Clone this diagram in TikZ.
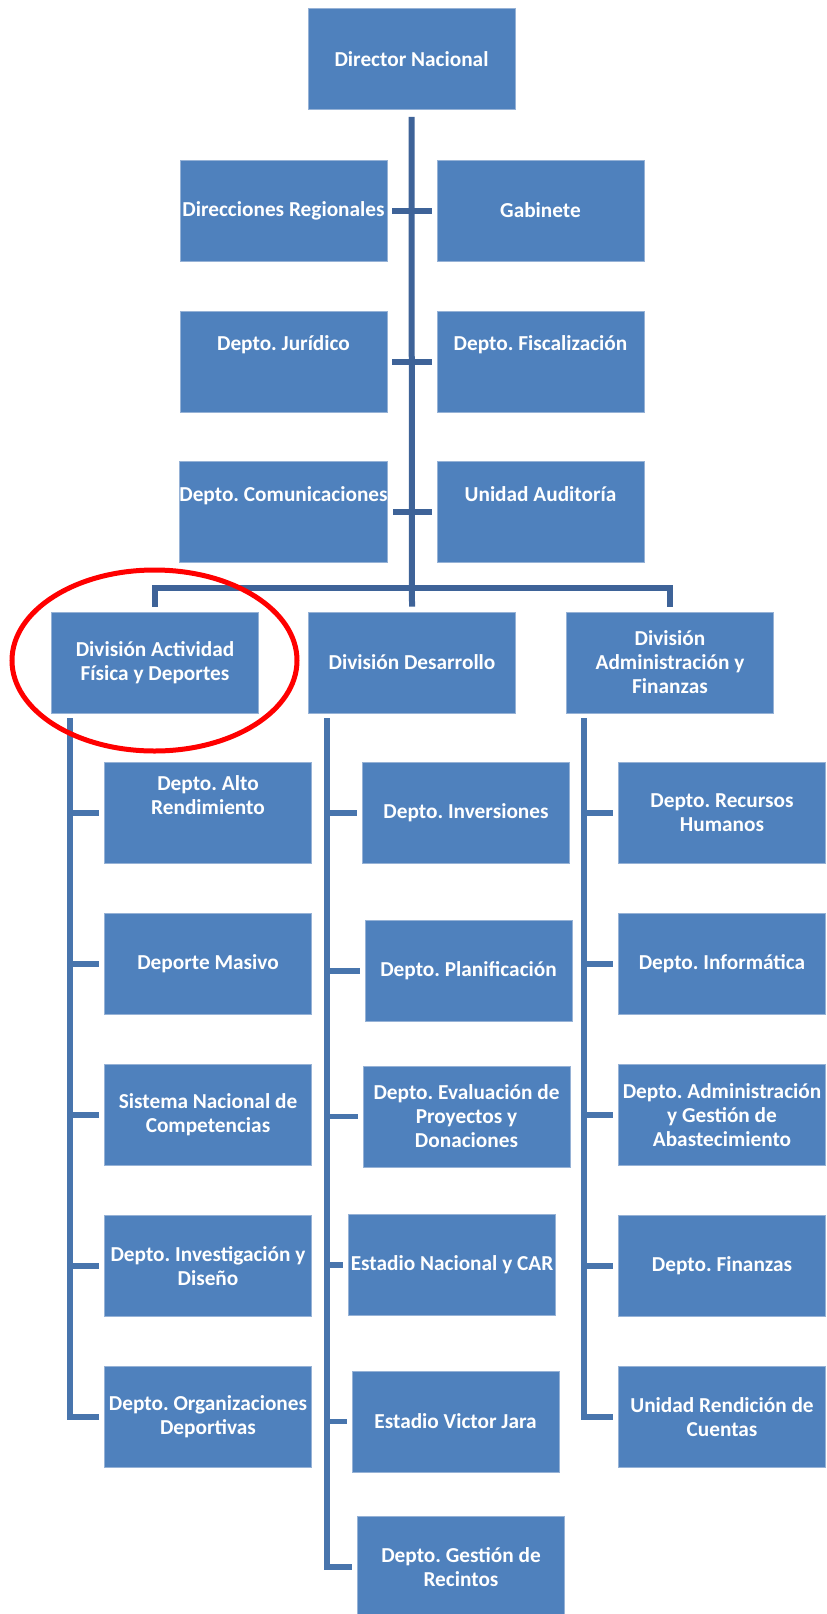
\documentclass[tikz,border=0pt]{standalone}
\usepackage{fontspec}
\setmainfont{Carlito}
\frenchspacing
\definecolor{boxblue}{RGB}{79,129,189}
\definecolor{boxedge}{RGB}{150,178,214}
\definecolor{trunk}{RGB}{62,99,152}
\definecolor{branch}{RGB}{72,117,173}

\begin{document}
\begin{tikzpicture}[x=1pt,y=-1pt,
  unit/.style={draw=boxedge,line width=0.8pt,fill=boxblue,text=white,minimum width=207pt,minimum height=101pt,
    inner sep=0pt,align=center,font=\bfseries\fontsize{21.3pt}{24pt}\selectfont},
  raised/.style={text depth=36pt},
  main/.style={trunk,line width=6pt},
  sub/.style={branch,line width=5.5pt}]
\useasboundingbox (0,0) rectangle (827,1614);
% top of the chart
\node[unit] (dir) at (411.5,59) {Director Nacional};
\node[unit] (reg) at (283.5,210.5) {Direcciones Regionales};
\node[unit] (gab) at (540.5,210.5) {Gabinete};
\node[unit,raised] (jur) at (283.5,361.5) {Depto. Jurídico};
\node[unit,raised] (fis) at (540.5,361.5) {Depto. Fiscalización};
\node[unit,raised] (com) at (283.5,512) {Depto. Comunicaciones};
\node[unit,raised] (aud) at (540.5,512) {Unidad Auditoría};
\node[unit] (divA) at (155,662.5) {División Actividad\\Física y Deportes};
\node[unit] (divD) at (412,662.5) {División Desarrollo};
\node[unit] (divF) at (670,662.5) {División\\Administración y\\Finanzas};
\coordinate (bus) at (412,588);
\draw[main] ([yshift=-7pt]dir.south) -- ([yshift=5pt]divD.north);
\draw[main] ([yshift=5pt]divA.north) |- (bus) -| ([yshift=5pt]divF.north);
\foreach \l/\r in {reg/gab,jur/fis,com/aud}
  \draw[main] ([xshift=5pt]\l.east) -- ([xshift=-5pt]\r.west);
% divisions
\foreach \i/\y/\s/\t in {1/813/raised/{Depto. Alto\\Rendimiento},2/964//Deporte Masivo,
    3/1115//{Sistema Nacional de\\Competencias},4/1266//{Depto. Investigación y\\Diseño},
    5/1417//{Depto. Organizaciones\\Deportivas}}
  \node[unit,\s] (a\i) at (208,\y) {\t};
\foreach \i/\x/\y/\t in {1/466/813/Depto. Inversiones,2/468.5/971/Depto. Planificación,
    3/466.5/1116.5/{Depto. Evaluación de\\Proyectos y\\Donaciones},4/452/1265/Estadio Nacional y CAR,
    5/455.5/1421.5/Estadio Victor Jara,6/461/1567/{Depto. Gestión de\\Recintos}}
  \node[unit] (d\i) at (\x,\y) {\t};
\foreach \i/\y/\t in {1/813/{Depto. Recursos\\Humanos},2/964/Depto. Informática,
    3/1115/{Depto. Administración\\y Gestión de\\Abastecimiento},4/1266/Depto. Finanzas,
    5/1417/{Unidad Rendición de\\Cuentas}}
  \node[unit] (f\i) at (722,\y) {\t};
\coordinate (ta) at (70,718);
\coordinate (td) at (327,718);
\coordinate (tf) at (584,718);
\draw[sub] (ta) |- ([xshift=-5pt]a5.west);
\draw[sub] (td) |- ([xshift=-5pt]d6.west);
\draw[sub] (tf) |- ([xshift=-5pt]f5.west);
\foreach \i in {1,...,4} {
  \draw[sub] (ta |- a\i.west) -- ([xshift=-5pt]a\i.west);
  \draw[sub] (tf |- f\i.west) -- ([xshift=-5pt]f\i.west);
}
\foreach \i in {1,...,5} \draw[sub] (td |- d\i.west) -- ([xshift=-5pt]d\i.west);
\draw[red,line width=5pt] (154.5,660.5) ellipse [x radius=142.5pt,y radius=90.5pt];
\end{tikzpicture}
\end{document}
